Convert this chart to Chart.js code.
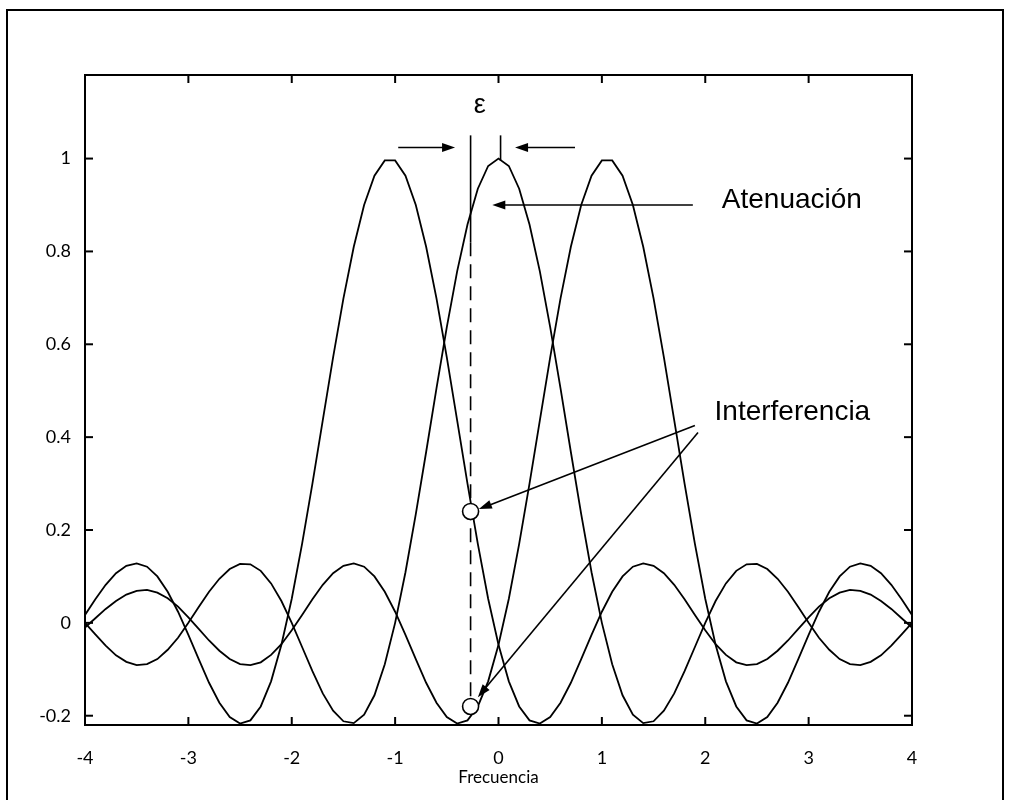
<!DOCTYPE html>
<html>
<head>
<meta charset="utf-8">
<script src="https://cdn.jsdelivr.net/npm/chart.js@4.4.0/dist/chart.umd.min.js"></script>
<style>
  html, body { margin: 0; padding: 0; background: #fff; }
  #wrap { width: 1022px; height: 800px; }
</style>
</head>
<body>
<div id="wrap"><canvas id="c" width="1022" height="800"></canvas></div>
<script>
// ── data ───────────────────────────────────────
const xs = [
  -4, -3.9, -3.8, -3.7, -3.6, -3.5, -3.4, -3.3, -3.2, -3.1,
  -3, -2.9, -2.8, -2.7, -2.6, -2.5, -2.4, -2.3, -2.2, -2.1,
  -2, -1.9, -1.8, -1.7, -1.6, -1.5, -1.4, -1.3, -1.2, -1.1,
  -1, -0.9, -0.8, -0.7, -0.6, -0.5, -0.4, -0.3, -0.2, -0.1,
  0, 0.1, 0.2, 0.3, 0.4, 0.5, 0.6, 0.7, 0.8, 0.9,
  1, 1.1, 1.2, 1.3, 1.4, 1.5, 1.6, 1.7, 1.8, 1.9,
  2, 2.1, 2.2, 2.3, 2.4, 2.5, 2.6, 2.7, 2.8, 2.9,
  3, 3.1, 3.2, 3.3, 3.4, 3.5, 3.6, 3.7, 3.8, 3.9, 4
];

const leftCurve = [
  0.017, 0.051, 0.082, 0.107, 0.123, 0.128, 0.121, 0.100, 0.067, 0.024,
  -0.026, -0.078, -0.129, -0.172, -0.203, -0.217, -0.210, -0.180, -0.126, -0.047,
  0.052, 0.170, 0.300, 0.436, 0.572, 0.699, 0.810, 0.900, 0.963, 0.996,
  0.996, 0.963, 0.900, 0.810, 0.699, 0.572, 0.436, 0.300, 0.170, 0.052,
  -0.047, -0.126, -0.180, -0.210, -0.217, -0.203, -0.172, -0.129, -0.078, -0.026,
  0.024, 0.067, 0.100, 0.121, 0.128, 0.123, 0.107, 0.082, 0.051, 0.017,
  -0.016, -0.046, -0.069, -0.085, -0.091, -0.089, -0.078, -0.060, -0.038, -0.013,
  0.012, 0.035, 0.053, 0.065, 0.071, 0.069, 0.061, 0.047, 0.030, 0.010, -0.010
];

const centerCurve = [
  0, -0.025, -0.049, -0.070, -0.084, -0.091, -0.089, -0.078, -0.058, -0.032,
  0, 0.034, 0.067, 0.095, 0.116, 0.127, 0.126, 0.112, 0.085, 0.047,
  0, -0.052, -0.104, -0.152, -0.189, -0.212, -0.216, -0.198, -0.156, -0.089,
  0, 0.109, 0.234, 0.368, 0.505, 0.637, 0.757, 0.858, 0.935, 0.984,
  1.000,
  0.984, 0.935, 0.858, 0.757, 0.637, 0.505, 0.368, 0.234, 0.109, 0,
  -0.089, -0.156, -0.198, -0.216, -0.212, -0.189, -0.152, -0.104, -0.052, 0,
  0.047, 0.085, 0.112, 0.126, 0.127, 0.116, 0.095, 0.067, 0.034, 0,
  -0.032, -0.058, -0.078, -0.089, -0.091, -0.084, -0.070, -0.049, -0.025, 0
];

const rightCurve = [
  -0.010, 0.010, 0.030, 0.047, 0.061, 0.069, 0.071, 0.065, 0.053, 0.035, 0.012,
  -0.013, -0.038, -0.060, -0.078, -0.089, -0.091, -0.085, -0.069, -0.046, -0.016,
  0.017, 0.051, 0.082, 0.107, 0.123, 0.128, 0.121, 0.100, 0.067, 0.024,
  -0.026, -0.078, -0.129, -0.172, -0.203, -0.217, -0.210, -0.180, -0.126, -0.047,
  0.052, 0.170, 0.300, 0.436, 0.572, 0.699, 0.810, 0.900, 0.963, 0.996,
  0.996, 0.963, 0.900, 0.810, 0.699, 0.572, 0.436, 0.300, 0.170, 0.052,
  -0.047, -0.126, -0.180, -0.210, -0.217, -0.203, -0.172, -0.129, -0.078, -0.026,
  0.024, 0.067, 0.100, 0.121, 0.128, 0.123, 0.107, 0.082, 0.051, 0.017
];

const xTicks = [-4, -3, -2, -1, 0, 1, 2, 3, 4];
const yTicks = [-0.2, 0, 0.2, 0.4, 0.6, 0.8, 1];

// sampling instant offset by epsilon and the two marked values
const epsX  = -0.27;
const markX = [-0.27, -0.27];
const markY = [0.24, -0.18];

const pts = ys => xs.map((x, i) => ({ x, y: ys[i] }));

// ── drawing helpers ────────────────────────────
function seg(ctx, x1, y1, x2, y2) {
  ctx.beginPath(); ctx.moveTo(x1, y1); ctx.lineTo(x2, y2); ctx.stroke();
}

function arrow(ctx, x1, y1, x2, y2) {
  const a = Math.atan2(y2 - y1, x2 - x1), L = 13, W = 4.5;
  const c = Math.cos(a), s = Math.sin(a);
  seg(ctx, x1, y1, x2 - (L - 2) * c, y2 - (L - 2) * s);
  ctx.beginPath();
  ctx.moveTo(x2, y2);
  ctx.lineTo(x2 - L * c + W * s, y2 - L * s - W * c);
  ctx.lineTo(x2 - L * c - W * s, y2 - L * s + W * c);
  ctx.closePath();
  ctx.fill();
}

const annotate = {
  id: 'annotate',
  beforeDatasetsDraw(chart) {
    const { ctx, scales: { x, y } } = chart;
    const px = x.getPixelForValue(epsX);
    ctx.save();
    ctx.strokeStyle = '#000';
    ctx.lineWidth = 1.6;
    seg(ctx, px, y.getPixelForValue(1.05), px, y.getPixelForValue(0.82));
    ctx.setLineDash([14, 8]);
    seg(ctx, px, y.getPixelForValue(0.82), px, y.getPixelForValue(-0.17));
    ctx.setLineDash([]);
    const p0 = x.getPixelForValue(0.02);
    seg(ctx, p0, y.getPixelForValue(1.05), p0, y.getPixelForValue(0.995));
    ctx.restore();
  },
  afterDatasetsDraw(chart) {
    const { ctx, scales: { x, y } } = chart;
    const P = (a, b) => [x.getPixelForValue(a), y.getPixelForValue(b)];
    ctx.save();
    ctx.strokeStyle = '#000';
    ctx.fillStyle = '#000';
    ctx.lineWidth = 1.6;

    // epsilon arrows
    arrow(ctx, ...P(-0.97, 1.024), ...P(-0.42, 1.024));
    arrow(ctx, ...P(0.74, 1.024), ...P(0.16, 1.024));
    ctx.font = '27px "Liberation Sans", Arial, sans-serif';
    ctx.textAlign = 'center';
    ctx.textBaseline = 'middle';
    ctx.fillText('ε', ...P(-0.18, 1.115));

    // Atenuación
    arrow(ctx, ...P(1.88, 0.90), ...P(-0.06, 0.90));
    ctx.font = '28px "Liberation Sans", Arial, sans-serif';
    ctx.textAlign = 'left';
    ctx.fillText('Atenuación', ...P(2.16, 0.91));

    // Interferencia
    arrow(ctx, ...P(1.9, 0.425), ...P(-0.19, 0.245));
    arrow(ctx, ...P(1.93, 0.41), ...P(-0.2, -0.16));
    ctx.fillText('Interferencia', ...P(2.09, 0.453));
    ctx.restore();
  },
  afterDraw(chart) {
    const { ctx, chartArea: a, scales: { x, y } } = chart;
    ctx.save();
    ctx.strokeStyle = '#000';
    ctx.lineWidth = 2;
    ctx.strokeRect(a.left, a.top, a.right - a.left, a.bottom - a.top);
    const tk = 8;
    xTicks.forEach(v => {
      const p = x.getPixelForValue(v);
      seg(ctx, p, a.bottom, p, a.bottom - tk);
      seg(ctx, p, a.top, p, a.top + tk);
    });
    yTicks.forEach(v => {
      const p = y.getPixelForValue(v);
      seg(ctx, a.left, p, a.left + tk, p);
      seg(ctx, a.right, p, a.right - tk, p);
    });
    // outer frame of the figure
    ctx.lineWidth = 2;
    ctx.beginPath();
    ctx.moveTo(7, 800); ctx.lineTo(7, 10); ctx.lineTo(1003, 10); ctx.lineTo(1003, 800);
    ctx.stroke();
    ctx.restore();
  },
};

const curve = data => ({
  type: 'line',
  data,
  borderColor: '#000',
  borderWidth: 1.8,
  pointRadius: 0,
  tension: 0,
  order: 2,
});

new Chart(document.getElementById('c'), {
  type: 'line',
  data: {
    datasets: [
      {
        type: 'scatter',
        data: markX.map((x, i) => ({ x, y: markY[i] })),
        pointStyle: 'circle',
        pointRadius: 8,
        pointBackgroundColor: '#fff',
        pointBorderColor: '#000',
        pointBorderWidth: 1.6,
        order: 0,
      },
      curve(pts(leftCurve)),
      curve(pts(centerCurve)),
      curve(pts(rightCurve)),
    ],
  },
  options: {
    responsive: false,
    animation: false,
    layout: { padding: { left: 0, right: 110, top: 75, bottom: 0 } },
    plugins: { legend: { display: false }, tooltip: { enabled: false } },
    scales: {
      x: {
        type: 'linear',
        min: -4,
        max: 4,
        afterBuildTicks: s => { s.ticks = xTicks.map(value => ({ value })); },
        afterFit: s => { s.height = 75; },
        grid: { display: false },
        border: { display: false },
        ticks: {
          padding: 14,
          color: '#000',
          font: { family: 'Lato', size: 18 },
          callback: v => String(v),
        },
        title: {
          display: true,
          text: 'Frecuencia',
          color: '#000',
          font: { family: 'Lato', size: 17 },
          padding: { top: 0, bottom: 12 },
        },
      },
      y: {
        min: -0.22,
        max: 1.18,
        afterBuildTicks: s => { s.ticks = yTicks.map(value => ({ value })); },
        afterFit: s => { s.width = 85; },
        grid: { display: false },
        border: { display: false },
        ticks: {
          padding: 6,
          color: '#000',
          font: { family: 'Lato', size: 18 },
          callback: v => String(v),
        },
      },
    },
  },
  plugins: [annotate],
});
</script>
</body>
</html>
